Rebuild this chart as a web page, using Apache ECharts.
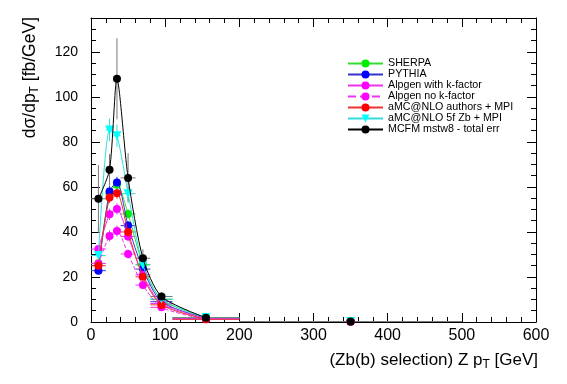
<!DOCTYPE html>
<html>
<head>
<meta charset="utf-8">
<script src="https://cdn.jsdelivr.net/npm/echarts@6/dist/echarts.min.js"></script>
<style>html,body{margin:0;padding:0;background:#fff;}#c{width:567px;height:384px;}</style>
</head>
<body>
<div id="c"></div>
<script>
// bin centres and half widths (GeV)
var xCenters = [10, 25, 35, 50, 70, 95, 155, 350];
var xHalf = [10, 5, 5, 10, 10, 15, 45, 150];

var seriesNames = ['SHERPA', 'PYTHIA', 'Alpgen with k-factor', 'Alpgen no k-factor', 'aMC@NLO authors + MPI', 'aMC@NLO 5f Zb + MPI', 'MCFM mstw8 - total err'];
var sherpa     = [26.0, 57.0, 61.0, 48.0, 25.5, 10.0, 2.0, 0.2];
var pythia     = [22.8, 58.0, 62.0, 42.8, 23.5, 9.0, 1.6, 0.2];
var alpgenK    = [32.4, 47.8, 50.2, 38.0, 21.0, 8.2, 1.5, 0.2];
var alpgenNoK  = [26.0, 38.2, 40.4, 30.2, 16.4, 6.5, 1.2, 0.15];
var amcAuthors = [25.0, 55.3, 57.2, 40.0, 20.1, 7.6, 1.2, 0.2];
var amc5f      = [29.5, 85.3, 82.7, 57.0, 25.3, 10.2, 2.0, 0.2];
var mcfm       = [54.7, 67.6, 108.0, 64.0, 28.3, 11.3, 1.9, 0.2];

// vertical errors
var errSherpa  = [1.5, 2.5, 2.5, 2, 1.5, 0.8, 0.3, 0.05];
var errPythia  = [1.5, 2.5, 2.5, 2, 1.5, 0.8, 0.3, 0.05];
var errAlpK    = [1.5, 2.5, 2.5, 2, 1.5, 0.8, 0.3, 0.05];
var errAlpNoK  = [1.5, 2.5, 2.5, 2, 1.5, 0.8, 0.3, 0.05];
var errAmcA    = [1.5, 2.5, 2.5, 2, 1.5, 0.8, 0.3, 0.05];
var errAmc5f   = [2.5, 5, 5, 3, 2, 1, 0.3, 0.05];
var errMcfm    = [15, 7, 18, 11, 4, 2, 0.5, 0.1];

var values = [sherpa, pythia, alpgenK, alpgenNoK, amcAuthors, amc5f, mcfm];
var errors = [errSherpa, errPythia, errAlpK, errAlpNoK, errAmcA, errAmc5f, errMcfm];
var colors = ['#00ee00', '#0000ff', '#ff00ff', '#ff00ff', '#ff0000', '#00ffff', '#000000'];
var lineColors = ['#33dd33', '#3333cc', '#ee33ee', '#ee33ee', '#ee3333', '#33dddd', '#000000'];
var lineTypes = ['solid', 'solid', 'solid', 'dashed', 'solid', 'solid', 'solid'];
var symbols = ['circle', 'circle', 'circle', 'circle', 'circle', 'triangle', 'circle'];

var FONT = '"Liberation Sans", Arial, Helvetica, sans-serif';

function lineData(v) {
  var d = [];
  for (var i = 0; i < xCenters.length; i++) {
    if (xCenters[i] > 200 && (i === 0 || xCenters[i - 1] <= 200)) d.push([xCenters[i], '-']);
    d.push([xCenters[i], v[i]]);
  }
  return d;
}

function errData(v, e) {
  return xCenters.map(function (x, i) {
    return [x, v[i], x - xHalf[i], x + xHalf[i], v[i] - e[i], v[i] + e[i]];
  });
}

function errRender(color) {
  return function (params, api) {
    var c = api.coord([api.value(0), api.value(1)]);
    var xl = api.coord([api.value(2), api.value(1)]);
    var xh = api.coord([api.value(3), api.value(1)]);
    var yl = api.coord([api.value(0), Math.max(0, api.value(4))]);
    var yh = api.coord([api.value(0), api.value(5)]);
    return {
      type: 'group',
      children: [
        { type: 'line', shape: { x1: xl[0], y1: c[1], x2: xh[0], y2: c[1] }, style: { stroke: color, lineWidth: 1 } },
        { type: 'line', shape: { x1: c[0], y1: yl[1], x2: c[0], y2: yh[1] }, style: { stroke: color, lineWidth: 1 } }
      ]
    };
  };
}

var series = [];
for (var k = 0; k < seriesNames.length; k++) {
  var ec = k === 6 ? '#777777' : lineColors[k];
  series.push({
    type: 'custom',
    name: seriesNames[k] + ' err',
    renderItem: errRender(ec),
    data: errData(values[k], errors[k]),
    encode: { x: 0, y: 1 },
    silent: true,
    z: 2 + k,
    clip: true
  });
}
for (var k2 = 0; k2 < seriesNames.length; k2++) {
  series.push({
    type: 'line',
    name: seriesNames[k2],
    data: lineData(values[k2]),
    smooth: 0.25,
    symbol: symbols[k2],
    symbolRotate: symbols[k2] === 'triangle' ? 180 : 0,
    symbolSize: symbols[k2] === 'triangle' ? 9 : 8,
    showAllSymbol: true,
    connectNulls: false,
    itemStyle: { color: colors[k2] },
    lineStyle: { color: lineColors[k2], width: 1, type: lineTypes[k2] },
    z: 10 + k2,
    animation: false
  });
}

function tickAxis(extra) {
  var base = {
    type: 'value',
    axisLine: { show: true, onZero: false, lineStyle: { color: '#000', width: 1 } },
    axisTick: { show: true, inside: true, length: 9, lineStyle: { color: '#000', width: 1 } },
    splitLine: { show: false }
  };
  for (var key in extra) base[key] = extra[key];
  return base;
}

var chart = echarts.init(document.getElementById('c'), null, { renderer: 'canvas' });
chart.setOption({
  animation: false,
  backgroundColor: '#ffffff',
  grid: { left: 91, right: 31, top: 18, bottom: 62 },
  legend: {
    data: seriesNames,
    orient: 'vertical',
    left: 347,
    top: 58,
    padding: 0,
    itemWidth: 35,
    itemHeight: 10,
    itemGap: 0,
    textStyle: { fontFamily: FONT, fontSize: 10.7, lineHeight: 10, color: '#000' },
    selectedMode: false
  },
  xAxis: [
    tickAxis({ min: 0, max: 600, interval: 100,
      minorTick: { show: true, splitNumber: 5, length: 5, lineStyle: { color: '#000' } },
      axisLabel: { fontFamily: FONT, fontSize: 16, color: '#000', margin: 6 } }),
    tickAxis({ min: 0, max: 600, interval: 100, position: 'top',
      minorTick: { show: true, splitNumber: 5, length: 5, lineStyle: { color: '#000' } },
      axisLabel: { show: false } })
  ],
  yAxis: [
    tickAxis({ min: 0, max: 135, interval: 20,
      minorTick: { show: true, splitNumber: 4, length: 5, lineStyle: { color: '#000' } },
      axisLabel: { fontFamily: FONT, fontSize: 14, color: '#000', margin: 13, showMaxLabel: false } }),
    tickAxis({ min: 0, max: 135, interval: 20, position: 'right',
      minorTick: { show: true, splitNumber: 4, length: 5, lineStyle: { color: '#000' } },
      axisLabel: { show: false } })
  ],
  graphic: [{
    type: 'text',
    x: 538, y: 350,
    style: {
      text: '{a|(Zb(b) selection) Z p}{s|T}{a| [GeV]}',
      align: 'right', verticalAlign: 'top',
      rich: {
        a: { fontFamily: FONT, fontSize: 17, fill: '#000' },
        s: { fontFamily: FONT, fontSize: 12, fill: '#000', padding: [9, 0, 0, 0] }
      }
    }
  }, {
    type: 'text',
    x: 30, y: 17,
    rotation: Math.PI / 2,
    style: {
      text: '{a|d\u03c3/dp}{s|T}{a| [fb/GeV]}',
      align: 'right', verticalAlign: 'middle',
      rich: {
        a: { fontFamily: FONT, fontSize: 17.5, fill: '#000' },
        s: { fontFamily: FONT, fontSize: 12, fill: '#000', padding: [9, 0, 0, 0] }
      }
    }
  }],
  series: series
});
</script>
</body>
</html>
